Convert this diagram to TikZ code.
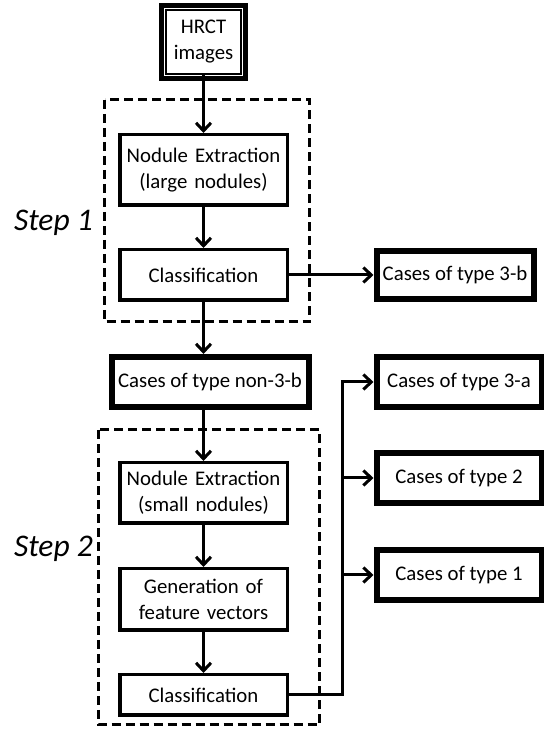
\documentclass[tikz,border=0pt]{standalone}
\usepackage{fontspec}
\setmainfont{Carlito}
\usepackage{tikz}
\usetikzlibrary{arrows.meta, calc, positioning}
\tikzstyle{block} = [rectangle, line width=3.5pt, minimum width=167.5pt, text width=162pt, inner sep=2pt, align=center, draw=black, fill=white, font=\fontsize{20.8}{26}\selectfont]
\tikzstyle{result} = [rectangle, line width=6pt, minimum height=50pt, inner sep=1pt, align=center, draw=black, fill=white, font=\fontsize{20.8}{26}\selectfont]
\tikzstyle{source} = [rectangle, line width=2pt, minimum width=75pt, minimum height=64pt, inner sep=2pt, align=center, draw=black, fill=white, font=\fontsize{20.8}{26}\selectfont]
\tikzstyle{steplabel} = [inner sep=0pt, font=\fontsize{31.5}{36}\selectfont\itshape]
\tikzstyle{stepbox} = [line width=3pt, dash pattern=on 9pt off 5pt]
\tikzstyle{arrow} = [line width=3pt, -{Straight Barb[length=8pt,width=15pt]}]

\begin{document}
\begin{tikzpicture}[x=1pt, y=1pt]
	\useasboundingbox (0,0) rectangle (544,729);
	\node (HRCT) [source] at (203.5,687) {HRCT\\images};
	\draw [line width=5pt] ($(HRCT.south west)+(-3.5,-3.5)$) rectangle ($(HRCT.north east)+(3.5,3.5)$);
	\node (NoduleLarge) [block, minimum height=70.5pt, below = 58pt of HRCT] {Nodule Extraction\\(large nodules)};
	\node (ClassOne) [block, minimum height=50.5pt, below = 41pt of NoduleLarge] {Classification};
	\node (NonThreeB) [result, minimum width=197pt, below = 52pt of ClassOne, xshift=6.5pt] {Cases of type non-3-b};
	\node (NoduleSmall) [block, minimum height=60.5pt, below = 51pt of NonThreeB, xshift=-6.5pt] {Nodule Extraction\\(small nodules)};
	\node (Generation) [block, minimum height=61.5pt, below = 42pt of NoduleSmall] {Generation of\\feature vectors};
	\node (ClassTwo) [block, minimum height=40.5pt, below = 41pt of Generation] {Classification};
	% results on the right
	\node (TypeThreeB) [result, minimum width=157pt, minimum height=48pt, right = 84.5pt of ClassOne] {Cases of type 3-b};
	\node (TypeThreeA) [result, minimum width=165pt, right = 62pt of NonThreeB] {Cases of type 3-a};
	\node (TypeTwo) [result, minimum width=165pt, below = 40pt of TypeThreeA] {Cases of type 2};
	\node (TypeOne) [result, minimum width=165pt, below = 41pt of TypeTwo] {Cases of type 1};
	\coordinate (Branch) at ($(ClassTwo.east)+(53.5,0)$);
	% dashed step frames
	\draw [stepbox] ($(NoduleLarge.north west)+(-13.5,33)$) rectangle ($(ClassOne.south east)+(20.5,-20)$);
	\draw [stepbox] ($(NoduleSmall.north west)+(-19.5,31)$) rectangle ($(ClassTwo.south east)+(30.5,-8)$);
	\node (StepOne) [steplabel, anchor=east] at ($(NoduleLarge.west)!0.5!(ClassOne.west)+(-25,0)$) {Step 1};
	\node (StepTwo) [steplabel, anchor=east] at ($(NoduleSmall.south west)!0.5!(Generation.north west)+(-25,-3)$) {Step 2};
	\draw [arrow] (HRCT) -- (NoduleLarge);
	\draw [arrow] (NoduleLarge) -- (ClassOne);
	\draw [arrow] (ClassOne) -- (ClassOne |- NonThreeB.north);
	\draw [arrow] (ClassOne) -- (TypeThreeB);
	\draw [arrow] (NonThreeB.south -| NoduleSmall) -- (NoduleSmall);
	\draw [arrow] (NoduleSmall) -- (Generation);
	\draw [arrow] (Generation) -- (ClassTwo);
	\draw [arrow] (ClassTwo) -- (Branch) |- (TypeThreeA);
	\draw [arrow] (Branch |- TypeTwo) -- (TypeTwo);
	\draw [arrow] (Branch |- TypeOne) -- (TypeOne);
\end{tikzpicture}
\end{document}
